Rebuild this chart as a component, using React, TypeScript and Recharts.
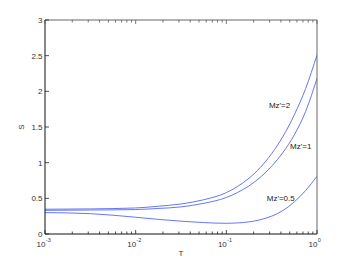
import React from 'react';
import { LineChart, Line, XAxis, YAxis, ReferenceDot } from 'recharts';

// Data
const T = [0.001, 0.00316, 0.01, 0.0178, 0.0316, 0.0562, 0.1, 0.133, 0.178, 0.237, 0.316, 0.422, 0.562, 0.75, 1];
const S_mz2 = [0.347, 0.352, 0.365, 0.389, 0.421, 0.48, 0.58, 0.667, 0.782, 0.932, 1.126, 1.37, 1.67, 2.04, 2.51];
const S_mz1 = [0.332, 0.336, 0.343, 0.358, 0.38, 0.43, 0.512, 0.582, 0.675, 0.795, 0.95, 1.145, 1.39, 1.72, 2.18];
const S_mz05 = [0.3, 0.285, 0.235, 0.205, 0.18, 0.16, 0.15, 0.155, 0.17, 0.2, 0.25, 0.33, 0.45, 0.61, 0.81];

const seriesKeys = ['mz2', 'mz1', 'mz05'];
const seriesNames = ["Mz'=2", "Mz'=1", "Mz'=0.5"];
const labelT = [0.295, 0.504, 0.279];
const labelS = [1.81, 1.23, 0.505];

const yTicks = [0, 0.5, 1, 1.5, 2, 2.5, 3];
const yTickLabels = ['0', '0.5', '1', '1.5', '2', '2.5', '3'];
const xMajorTicks = [0.001, 0.01, 0.1, 1];
const xMajorExponents = ['-3', '-2', '-1', '0'];
const minorMultipliers = [2, 3, 4, 5, 6, 7, 8, 9];

const lg = (v: number) => Math.log10(v);

const xAllTicks: number[] = [];
xMajorTicks.forEach((m, i) => {
  xAllTicks.push(lg(m));
  if (i < xMajorTicks.length - 1) minorMultipliers.forEach((k) => xAllTicks.push(lg(k * m)));
});

const data = T.map((t, i) => ({ logT: lg(t), mz2: S_mz2[i], mz1: S_mz1[i], mz05: S_mz05[i] }));

const LINE_COLOR = '#5566f4';
const TEXT_COLOR = '#333';
const FONT = '"Liberation Sans", Arial, Helvetica, sans-serif';

const majorIndex = (v: number) => xMajorTicks.findIndex((m) => Math.abs(lg(m) - v) < 1e-9);

const BottomTick = (props: any) => {
  const { x, y, payload } = props;
  const idx = majorIndex(payload.value);
  const len = idx >= 0 ? 4 : 2.5;
  return (
    <g>
      <line x1={x} x2={x} y1={y} y2={y - len} stroke="#222" strokeWidth={0.8} />
      {idx >= 0 && (
        <g fontFamily={FONT} fill={TEXT_COLOR}>
          <text x={x + 0.5} y={y + 12.5} textAnchor="end" fontSize={8}>10</text>
          <text x={x + 0.8} y={y + 8} textAnchor="start" fontSize={5.5}>{xMajorExponents[idx]}</text>
        </g>
      )}
    </g>
  );
};

const TopTick = (props: any) => {
  const { x, y, payload } = props;
  const idx = majorIndex(payload.value);
  const len = idx >= 0 ? 4 : 2.5;
  return <line x1={x} x2={x} y1={y} y2={y + len} stroke="#555" strokeWidth={0.8} />;
};

const LeftTick = (props: any) => {
  const { x, y, payload } = props;
  const i = yTicks.indexOf(payload.value);
  return (
    <g>
      <line x1={x} x2={x + 4} y1={y} y2={y} stroke="#222" strokeWidth={0.8} />
      <text x={x - 2.5} y={y + 3} textAnchor="end" fontSize={8} fontFamily={FONT} fill={TEXT_COLOR}>
        {yTickLabels[i]}
      </text>
    </g>
  );
};

const RightTick = (props: any) => {
  const { x, y } = props;
  return <line x1={x} x2={x - 4} y1={y} y2={y} stroke="#555" strokeWidth={0.8} />;
};

const YTitle = (props: any) => {
  const vb = props.viewBox || {};
  const cx = vb.x + vb.width - 21;
  const cy = vb.y + vb.height / 2;
  return (
    <text x={cx} y={cy} transform={`rotate(-90, ${cx}, ${cy})`} textAnchor="middle" fontSize={8} fontFamily={FONT} fill={TEXT_COLOR}>
      S
    </text>
  );
};

const XTitle = (props: any) => {
  const vb = props.viewBox || {};
  const cx = vb.x + vb.width / 2;
  const cy = vb.y + 22;
  return (
    <text x={cx} y={cy} textAnchor="middle" fontSize={8} fontFamily={FONT} fill={TEXT_COLOR}>
      T
    </text>
  );
};

export default function App() {
  const axisLine = { stroke: '#111', strokeWidth: 1 };
  const boxLine = { stroke: '#666', strokeWidth: 1 };
  return (
    <div style={{ position: 'absolute', left: 0, top: 0, width: 350, height: 264, background: '#fff' }}>
      <LineChart width={350} height={264} data={data} margin={{ top: 19, right: 32, bottom: 29, left: 44 }}>
        <XAxis
          dataKey="logT"
          type="number"
          domain={[-3, 0]}
          allowDataOverflow
          ticks={xAllTicks}
          interval={0}
          height={1}
          tickSize={0}
          tickMargin={0}
          tickLine={false}
          axisLine={axisLine}
          tick={(p: any) => <BottomTick {...p} />}
          label={{ content: (p: any) => <XTitle {...p} /> }}
        />
        <XAxis
          xAxisId="top"
          orientation="top"
          dataKey="logT"
          type="number"
          domain={[-3, 0]}
          allowDataOverflow
          ticks={xAllTicks}
          interval={0}
          height={1}
          tickSize={0}
          tickMargin={0}
          tickLine={false}
          axisLine={boxLine}
          tick={(p: any) => <TopTick {...p} />}
        />
        <YAxis
          type="number"
          domain={[0, 3]}
          ticks={yTicks}
          interval={0}
          width={1}
          tickSize={0}
          tickMargin={0}
          tickLine={false}
          axisLine={axisLine}
          tick={(p: any) => <LeftTick {...p} />}
          label={{ content: (p: any) => <YTitle {...p} /> }}
        />
        <YAxis
          yAxisId="right"
          orientation="right"
          type="number"
          domain={[0, 3]}
          ticks={yTicks}
          interval={0}
          width={1}
          tickSize={0}
          tickMargin={0}
          tickLine={false}
          axisLine={boxLine}
          tick={(p: any) => <RightTick {...p} />}
        />
        {seriesKeys.map((k) => (
          <Line key={k} dataKey={k} type="monotone" stroke={LINE_COLOR} strokeWidth={0.9} dot={false} isAnimationActive={false} />
        ))}
        {seriesNames.map((n, i) => (
          <ReferenceDot
            key={n}
            x={lg(labelT[i])}
            y={labelS[i]}
            r={0}
            fill="none"
            stroke="none"
            label={{ value: n, position: 'right', offset: 0, fontSize: 8, fill: '#222', fontFamily: FONT }}
          />
        ))}
      </LineChart>
    </div>
  );
}
